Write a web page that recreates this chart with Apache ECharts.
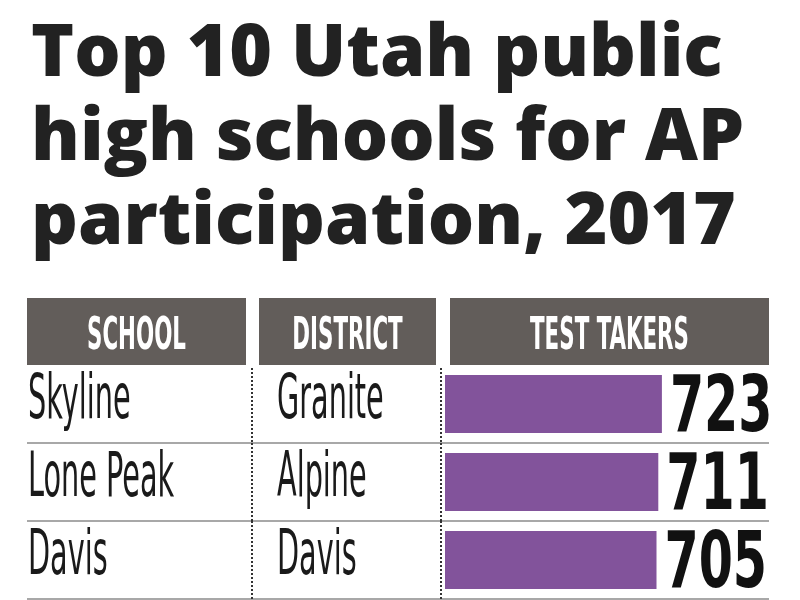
<!DOCTYPE html>
<html>
<head>
<meta charset="utf-8">
<script src="https://cdn.jsdelivr.net/npm/echarts@6/dist/echarts.min.js"></script>
<style>
  html, body { margin: 0; padding: 0; background: #fff; }
  #chart { width: 800px; height: 600px; }
</style>
</head>
<body>
<div id="chart"></div>
<script>
const titleLines = ['Top 10 Utah public', 'high schools for AP', 'participation, 2017'];
const headers = ['SCHOOL', 'DISTRICT', 'TEST TAKERS'];
const schools = ['Skyline', 'Lone Peak', 'Davis'];
const districts = ['Granite', 'Alpine', 'Davis'];
const testTakers = [723, 711, 705];

const narrow = '"DejaVu Sans Condensed", "DejaVu Sans", sans-serif';
const purple = '#82539b';
const headGray = '#625d5a';

// header boxes: [left, right]
const cols = [[27, 246], [259, 436], [450, 769]];

let chart = echarts.init(document.getElementById('chart'));

const headerGraphics = [];
headers.forEach((h, i) => {
  let [l, r] = cols[i];
  headerGraphics.push({
    type: 'rect', shape: {x: l, y: 298, width: r - l, height: 67},
    style: {fill: headGray}
  });
  headerGraphics.push({
    type: 'text', x: (l + r) / 2, y: 338, scaleX: 0.54,
    style: {
      text: h, fill: '#fff', font: 'bold 44px ' + narrow,
      align: 'center', verticalAlign: 'middle'
    }
  });
});

// table cells: school, district, value text, row rules, dotted separators
const renderRow = (params, api) => {
  let i = api.value(1);
  let c = api.coord([0, i]);
  let v = api.coord([testTakers[i], i]);
  let h = api.size([0, 1])[1];
  let top = c[1] - h / 2, bottom = c[1] + h / 2;
  let mid = c[1] - 2;
  return {
    type: 'group',
    children: [
      {
        type: 'text', x: 28, y: mid, scaleX: 0.515,
        style: {text: schools[i], fill: '#1a1a1a', font: '62px ' + narrow, verticalAlign: 'middle'}
      },
      {
        type: 'text', x: 277, y: mid, scaleX: 0.515,
        style: {text: districts[i], fill: '#1a1a1a', font: '62px ' + narrow, verticalAlign: 'middle'}
      },
      {
        type: 'text', x: v[0] + 8, y: c[1] + 7, scaleX: 0.7,
        style: {text: String(testTakers[i]), fill: '#111', font: 'bold 78px ' + narrow, verticalAlign: 'middle'}
      },
      {
        type: 'line', shape: {x1: 27, y1: bottom, x2: 769, y2: bottom},
        style: {stroke: '#a8a8a8', lineWidth: 2}
      },
      {
        type: 'line', shape: {x1: 252, y1: i === 0 ? top + 3 : top, x2: 252, y2: bottom + 2},
        style: {stroke: '#333', lineWidth: 2, lineDash: [2, 2]}
      },
      {
        type: 'line', shape: {x1: 441, y1: i === 0 ? top + 3 : top, x2: 441, y2: bottom + 2},
        style: {stroke: '#333', lineWidth: 2, lineDash: [2, 2]}
      }
    ]
  };
};

chart.setOption({
  animation: false,
  title: {
    text: titleLines.join('\n'),
    left: 26, top: 8,
    textStyle: {
      fontFamily: '"Open Sans", sans-serif', fontWeight: 800,
      fontSize: 73, lineHeight: 84, color: '#222'
    }
  },
  graphic: headerGraphics,
  grid: {left: 445, top: 365, width: 300, height: 234},
  xAxis: {type: 'value', min: 0, max: 1000, show: false},
  yAxis: {type: 'category', data: schools, inverse: true, show: false},
  series: [
    {
      type: 'bar',
      data: testTakers,
      barWidth: 58,
      itemStyle: {color: purple},
      z: 3
    },
    {
      type: 'custom',
      renderItem: renderRow,
      data: schools.map((s, i) => [0, i]),
      encode: {x: 0, y: 1},
      silent: true,
      z: 2
    }
  ]
});
</script>
</body>
</html>
